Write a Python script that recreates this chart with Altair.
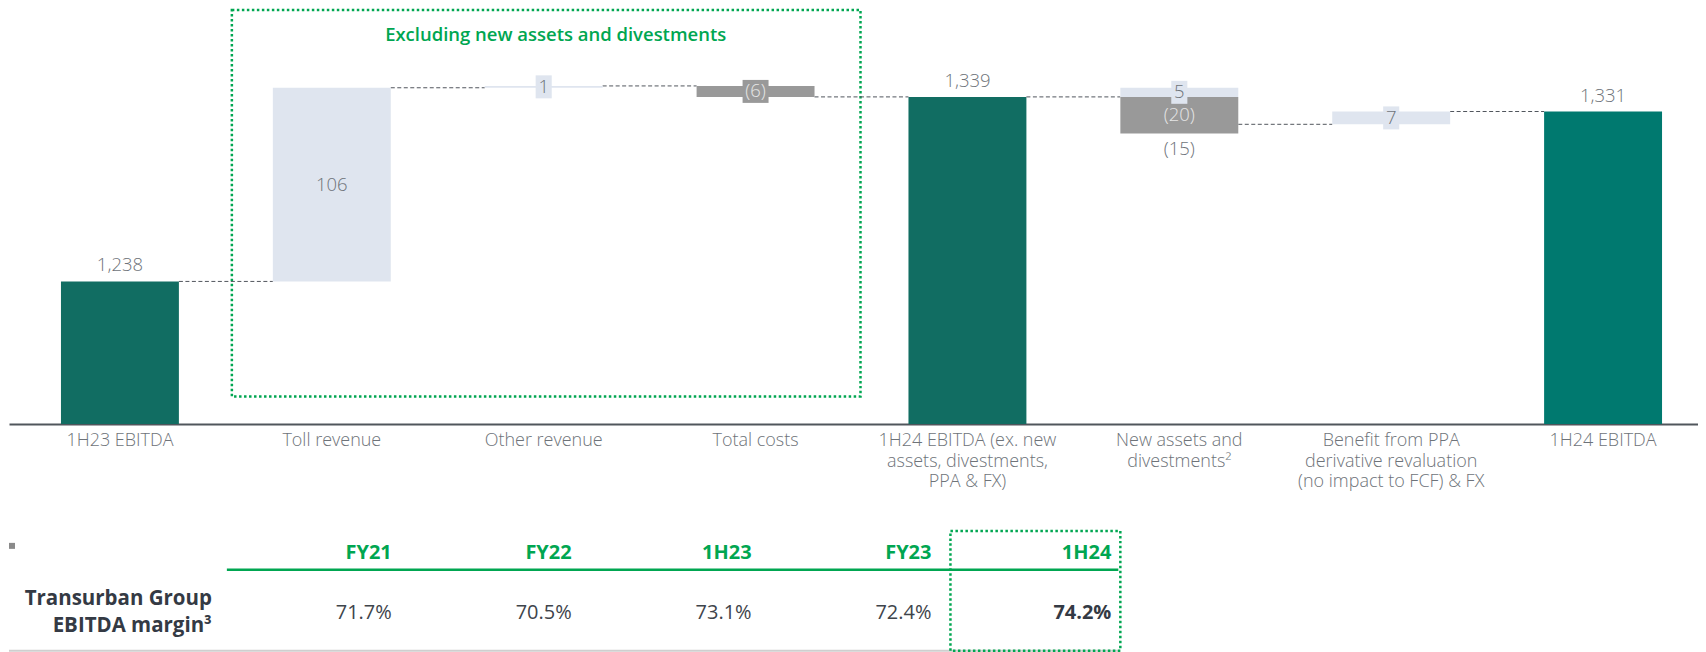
import altair as alt
import pandas as pd

# ---------------- data ----------------
categories = [
    "1H23 EBITDA",
    "Toll revenue",
    "Other revenue",
    "Total costs",
    "1H24 EBITDA (ex. new|assets, divestments,|PPA & FX)",
    "New assets and|divestments²",
    "Benefit from PPA|derivative revaluation|(no impact to FCF) & FX",
    "1H24 EBITDA",
]
bar_kinds = ["total", "delta", "delta", "delta", "total", "delta", "delta", "total"]
bar_values = [[1238], [106], [1], [-6], [1339], [5, -20], [7], [1331]]
total_colors = ["#116D62", "#116D62", "#00796F"]

box_title = "Excluding new assets and divestments"
box_categories = ["Toll revenue", "Total costs"]

table_columns = ["FY21", "FY22", "1H23", "FY23", "1H24"]
table_margins = [71.7, 70.5, 73.1, 72.4, 74.2]
table_row_label = ["Transurban Group", "EBITDA margin³"]
highlight_column = "1H24"

# ---------------- style ----------------
FONT = "Open Sans"
C_TEXT = "#6E7379"
C_LIGHT = "#DFE5EF"
C_GREY = "#999999"
C_ON_GREY = "#E6E6E6"
C_GREEN = "#00A651"
C_DARK = "#343A44"
Y_MIN, Y_MAX = 1160, 1387
BOX_TOP, BOX_BOTTOM, TITLE_Y = 1386.5, 1175, 1373


def fmt(v):
    s = f"{abs(v):,}"
    return f"({s})" if v < 0 else s


# ---------------- build tables ----------------
totals, segs, above, centers, below, levels = [], [], [], [], [], []
level = None
ti = 0
for cat, kind, vals in zip(categories, bar_kinds, bar_values):
    if kind == "total":
        v = vals[0]
        totals.append({"cat": cat, "v": v, "base": Y_MIN, "fill": total_colors[ti]})
        ti += 1
        above.append({"cat": cat, "y": v, "text": fmt(v)})
        level = v
    else:
        start = level
        ends = []
        for p in vals:
            fill = C_LIGHT if p > 0 else C_GREY
            segs.append({"cat": cat, "y": start, "y2": start + p, "fill": fill})
            ends.append(start + p)
            txt = fmt(p)
            centers.append({
                "cat": cat, "y": start + p / 2, "text": txt,
                "tcolor": C_ON_GREY if p < 0 else C_TEXT,
                "boxed": abs(p) < 10,
                "box": "narrow" if len(txt) < 2 else "wide",
                "bfill": fill,
            })
        net = sum(vals)
        if len(vals) > 1:
            below.append({"cat": cat, "y": min(ends), "text": fmt(net)})
        level = start + net
    levels.append(level)

connectors = [
    {"from": categories[i], "to": categories[i + 1], "level": levels[i]}
    for i in range(len(categories) - 1)
]

df_tot = pd.DataFrame(totals)
df_seg = pd.DataFrame(segs)
df_above = pd.DataFrame(above)
df_center = pd.DataFrame(centers)
df_boxes = df_center[df_center["boxed"]]
df_below = pd.DataFrame(below)
df_conn = pd.DataFrame(connectors)
df_box = pd.DataFrame([{"x0": box_categories[0], "x1": box_categories[1],
                        "top": BOX_TOP, "bot": BOX_BOTTOM}])
df_title = pd.DataFrame([{"cat": "Other revenue", "y": TITLE_Y, "t": box_title}])

# ---------------- waterfall ----------------
xs = alt.Scale(domain=categories, paddingInner=0.4434, paddingOuter=0.2075, align=0.591)
ys = alt.Scale(domain=[Y_MIN, Y_MAX], zero=False, nice=False)
x_axis = alt.Axis(
    orient="bottom",
    title=None, labelExpr="split(datum.label, '|')", labelAngle=0,
    labelFont=FONT, labelFontSize=18, labelFontWeight=300, labelColor=C_TEXT,
    labelLineHeight=20.5, labelPadding=8, ticks=False, domainColor="#50565C",
    domainWidth=2, labelLimit=400, grid=False,
)


def X(field, **kw):
    return alt.X(f"{field}:N", scale=xs, axis=x_axis, **kw)


def Y(field):
    return alt.Y(f"{field}:Q", scale=ys, axis=None)


bars_total = alt.Chart(df_tot).mark_bar().encode(
    x=X("cat"), y=Y("v"), y2="base", color=alt.Color("fill:N", scale=None)
)
bars_delta = alt.Chart(df_seg).mark_bar().encode(
    x=X("cat"), y=Y("y"), y2="y2", color=alt.Color("fill:N", scale=None)
)
conn = alt.Chart(df_conn).mark_rule(
    color="#50555C", strokeDash=[4, 2.5], strokeWidth=1
).encode(
    x=X("from", bandPosition=1), x2=alt.X2("to", bandPosition=0), y=Y("level")
)
box = alt.Chart(df_box).mark_rect(
    fillOpacity=0, stroke=C_GREEN, strokeWidth=2.5, strokeDash=[2.5, 2.5],
    xOffset=-41, x2Offset=46,
).encode(
    x=X("x0", bandPosition=0), x2=alt.X2("x1", bandPosition=1),
    y=Y("top"), y2="bot",
)
title = alt.Chart(df_title).mark_text(
    font=FONT, fontSize=18.5, fontWeight=600, color=C_GREEN, dx=12, baseline="middle"
).encode(x=X("cat"), y=Y("y"), text="t")

path_n = "M-0.7,-1H0.7V1H-0.7Z"
path_w = "M-1.13,-1H1.13V1H-1.13Z"
label_boxes = alt.Chart(df_boxes).mark_point(
    filled=True, opacity=1, size=529, strokeWidth=0
).encode(
    x=X("cat"), y=Y("y"),
    shape=alt.Shape("box:N", scale=alt.Scale(domain=["narrow", "wide"],
                                             range=[path_n, path_w]), legend=None),
    color=alt.Color("bfill:N", scale=None),
)
lab_center = alt.Chart(df_center).mark_text(
    font=FONT, fontSize=18.5, fontWeight=300, baseline="middle"
).encode(x=X("cat"), y=Y("y"), text="text", color=alt.Color("tcolor:N", scale=None))
lab_above = alt.Chart(df_above).mark_text(
    font=FONT, fontSize=18.5, fontWeight=300, baseline="middle", dy=-16, color=C_TEXT
).encode(x=X("cat"), y=Y("y"), text="text")
lab_below = alt.Chart(df_below).mark_text(
    font=FONT, fontSize=18.5, fontWeight=300, baseline="middle", dy=16, color=C_TEXT
).encode(x=X("cat"), y=Y("y"), text="text")

wf = alt.layer(bars_total, box, conn, bars_delta, label_boxes, lab_center,
               lab_above, lab_below, title)

# ---------------- margin table ----------------
tcols = ["label"] + table_columns
txs = alt.Scale(domain=tcols, range=[32, 1112], paddingInner=0, paddingOuter=0)
tys = alt.Scale(type="point", domain=["header", "value"], range=[544, 604], padding=0)


def TX(field, **kw):
    return alt.X(f"{field}:N", scale=txs, axis=None, **kw)


def TY(field):
    return alt.Y(f"{field}:N", scale=tys, axis=None)


df_head = pd.DataFrame({"col": table_columns, "row": "header", "text": table_columns})
df_vals = pd.DataFrame({"col": table_columns, "row": "value",
                        "text": [f"{m:.1f}%" for m in table_margins]})
df_rowlab = pd.DataFrame([{"col": "label", "row": "value", "text": table_row_label}])
df_lines = pd.DataFrame([{"a": table_columns[0], "b": table_columns[-1],
                          "l": "label", "h": highlight_column,
                          "r1": "header", "r2": "value"}])

head = alt.Chart(df_head).mark_text(
    align="right", dx=-9, baseline="middle", font=FONT, fontSize=20,
    fontWeight="bold", color=C_GREEN
).encode(x=TX("col", bandPosition=1), y=TY("row"), text="text")
vals_norm = alt.Chart(df_vals[df_vals["col"] != highlight_column]).mark_text(
    align="right", dx=-9, baseline="middle", font=FONT, fontSize=20,
    fontWeight=400, color="#3E444B"
).encode(x=TX("col", bandPosition=1), y=TY("row"), text="text")
vals_bold = alt.Chart(df_vals[df_vals["col"] == highlight_column]).mark_text(
    align="right", dx=-9, baseline="middle", font=FONT, fontSize=20,
    fontWeight="bold", color=C_DARK
).encode(x=TX("col", bandPosition=1), y=TY("row"), text="text")
rowlab = alt.Chart(df_rowlab).mark_text(
    align="right", dx=-9, dy=-13.5, baseline="middle", font=FONT, fontSize=20.5,
    fontWeight="bold", color=C_DARK, lineHeight=27
).encode(x=TX("col", bandPosition=1), y=TY("row"), text="text")
green_line = alt.Chart(df_lines).mark_rule(
    color=C_GREEN, strokeWidth=2.5, yOffset=17, xOffset=6, x2Offset=-2
).encode(x=TX("a", bandPosition=0), x2=alt.X2("b", bandPosition=1), y=TY("r1"))
grey_line = alt.Chart(df_lines).mark_rule(
    color="#CFCFCF", strokeWidth=2, yOffset=38, xOffset=-32, x2Offset=-2
).encode(x=TX("l", bandPosition=0), x2=alt.X2("b", bandPosition=1), y=TY("r2"))
hl_box = alt.Chart(df_lines).mark_rect(
    fillOpacity=0, stroke=C_GREEN, strokeWidth=2.5, strokeDash=[2.5, 2.5],
    xOffset=10, yOffset=-22, y2Offset=38,
).encode(x=TX("h", bandPosition=0), x2=alt.X2("h", bandPosition=1),
         y=TY("r1"), y2=alt.Y2("r2"))
marker = alt.Chart(df_lines).mark_point(
    shape="square", filled=True, size=36, color="#8A8A8A", opacity=1,
    xOffset=-29, yOffset=-7
).encode(x=TX("l", bandPosition=0), y=TY("r1"))

tbl = alt.layer(green_line, grey_line, hl_box, marker, head, vals_norm, vals_bold, rowlab)

chart = (
    alt.layer(wf, tbl)
    .resolve_scale(x="independent", y="independent")
    .properties(width=1690, height=415,
                padding={"left": 0, "top": 0, "right": 0, "bottom": 0})
    .configure(font=FONT, background="white")
    .configure_view(strokeWidth=0, stroke="transparent")
)

chart.save("out.html", embed_options={"renderer": "svg", "actions": False})
